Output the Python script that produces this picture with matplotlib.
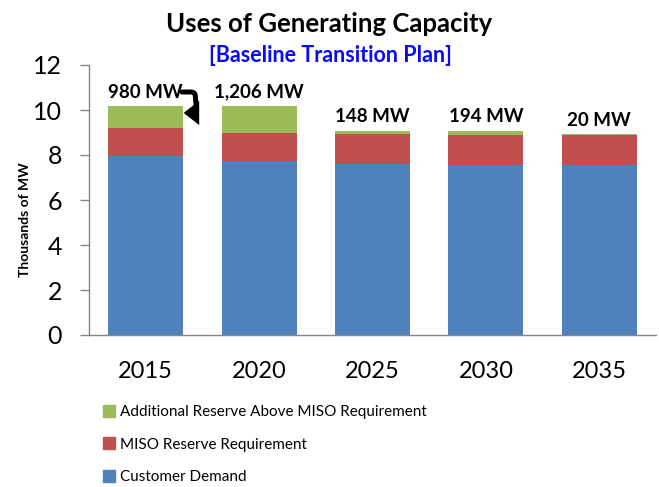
import matplotlib
matplotlib.use("Agg")
import matplotlib.pyplot as plt
from matplotlib.patches import Patch
import numpy as np

plt.rcParams['font.family'] = ['Lato', 'DejaVu Sans']

years = ["2015", "2020", "2025", "2030", "2035"]
customer_demand = [7.97, 7.72, 7.59, 7.56, 7.56]
miso_reserve = [1.22, 1.24, 1.33, 1.33, 1.34]
additional_reserve = [0.98, 1.206, 0.148, 0.194, 0.02]
labels = ["980 MW", "1,206 MW", "148 MW", "194 MW", "20 MW"]

c_blue = "#4F81BD"
c_red = "#C0504D"
c_green = "#9BBB59"

fig = plt.figure(figsize=(6.59, 4.87), dpi=100)
ax = fig.add_axes([89/659, 1-335/487, (656-89)/659, 270/487])

x = np.arange(len(years))
w = 0.66
d = np.array(customer_demand)
m = np.array(miso_reserve)
a = np.array(additional_reserve)
ax.bar(x, d, w, color=c_blue, label="Customer Demand")
ax.bar(x, m, w, bottom=d, color=c_red, label="MISO Reserve Requirement")
ax.bar(x, a, w, bottom=d+m, color=c_green, label="Additional Reserve Above MISO Requirement")

tops = d + m + a
for xi, t, lab in zip(x, tops, labels):
    ax.annotate(lab, (xi, t), xytext=(0, 4), textcoords="offset points",
                ha="center", va="bottom", fontsize=13.5, fontweight="bold", color="black")

# curved arrow from first label to its bar
ax.annotate("", xy=(x[0] + w/2 + 0.005, tops[0] - 0.30), xytext=(x[0] + w/2 - 0.01, tops[0] + 0.63),
            arrowprops=dict(arrowstyle="-|>,head_length=0.46,head_width=0.36", lw=3.6,
                            color="black", mutation_scale=14,
                            connectionstyle="arc,angleA=0,angleB=0,armA=13,armB=13,rad=4",
                            shrinkA=0, shrinkB=0, joinstyle="miter"))

ax.set_xlim(-0.5, len(years) - 0.5)
ax.set_ylim(0, 12)
ax.set_yticks([0, 2, 4, 6, 8, 10, 12])
ax.set_xticks(x)
ax.set_xticklabels(years)
ax.tick_params(axis="y", direction="out", length=6.5, width=1, color="#868686",
               labelsize=18, pad=13)
ax.tick_params(axis="x", length=0, labelsize=17, pad=19)
for s in ["top", "right"]:
    ax.spines[s].set_visible(False)
for s in ["left", "bottom"]:
    ax.spines[s].set_color("#868686")
    ax.spines[s].set_linewidth(1)

fig.text(25/659, 1-220/487, "Thousands of MW", rotation=90, ha="center", va="center",
         fontsize=10, fontweight="bold")

fig.text(0.5, 1-24/487, "Uses of Generating Capacity", ha="center", va="center",
         fontsize=18.5, fontweight="bold")
fig.text(0.502, 1-55/487, "[Baseline Transition Plan]", ha="center", va="center",
         fontsize=15.5, fontweight="bold", color="#0A0AF5")

handles = [Patch(color=c_green), Patch(color=c_red), Patch(color=c_blue)]
leg_labels = ["Additional Reserve Above MISO Requirement", "MISO Reserve Requirement", "Customer Demand"]
fig.legend(handles, leg_labels, loc="upper left", bbox_to_anchor=(103/659, 1-405/487),
           frameon=False, fontsize=11, handlelength=0.8, handleheight=0.8,
           handletextpad=0.3, labelspacing=1.2, borderaxespad=0, borderpad=0)

fig.savefig("out.png", dpi=100)
